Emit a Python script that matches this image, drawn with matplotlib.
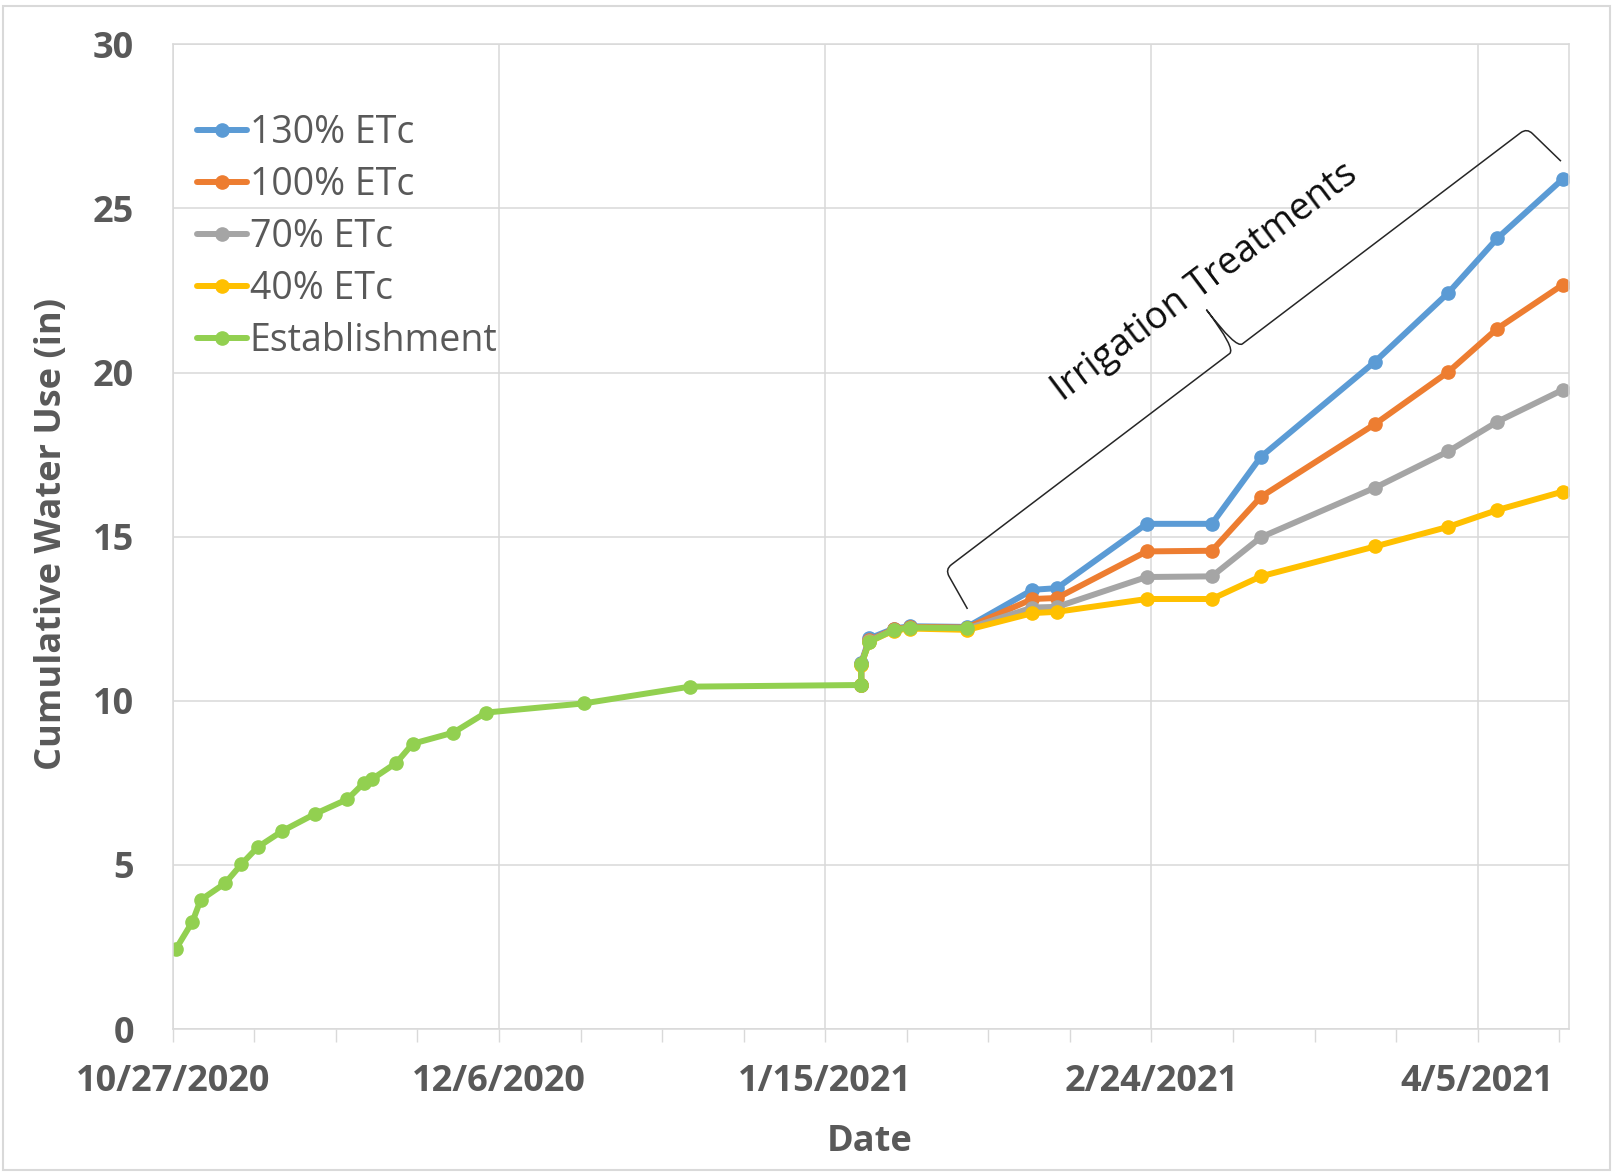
import matplotlib.pyplot as plt
import matplotlib.dates as mdates
import matplotlib.ticker as ticker
from matplotlib.path import Path
from matplotlib.patches import PathPatch, Rectangle
import numpy as np
import pandas as pd

plt.rcParams['font.family'] = ['Open Sans', 'DejaVu Sans']

# readings were taken mid-morning
READ_HOUR = 10

# establishment period (all plots irrigated the same)
est_dates = ['2020-10-27', '2020-10-29', '2020-10-30', '2020-11-02', '2020-11-04',
             '2020-11-06', '2020-11-09', '2020-11-13', '2020-11-17', '2020-11-19',
             '2020-11-20', '2020-11-23', '2020-11-25', '2020-11-30', '2020-12-04',
             '2020-12-16', '2020-12-29', '2021-01-19', '2021-01-19', '2021-01-20',
             '2021-01-23', '2021-01-25', '2021-02-01']
est_use = [2.45, 3.27, 3.93, 4.44, 5.02, 5.54, 6.03, 6.55, 7.00, 7.49,
           7.61, 8.11, 8.69, 9.03, 9.64, 9.92, 10.43, 10.48, 11.11, 11.80,
           12.16, 12.23, 12.21]

# irrigation treatments
trt_dates = ['2021-01-19', '2021-01-19', '2021-01-20', '2021-01-23', '2021-01-25',
             '2021-02-01', '2021-02-09', '2021-02-12', '2021-02-23', '2021-03-03',
             '2021-03-09', '2021-03-23', '2021-04-01', '2021-04-07', '2021-04-15']
etc130 = [10.48, 11.15, 11.90, 12.20, 12.27, 12.25, 13.38, 13.43, 15.39, 15.39,
          17.43, 20.33, 22.43, 24.09, 25.89]
etc100 = [10.48, 11.13, 11.84, 12.18, 12.25, 12.23, 13.10, 13.13, 14.55, 14.57,
          16.21, 18.43, 20.02, 21.34, 22.67]
etc70 = [10.48, 11.11, 11.82, 12.16, 12.23, 12.20, 12.84, 12.86, 13.77, 13.79,
         14.98, 16.49, 17.60, 18.50, 19.47]
etc40 = [10.48, 11.10, 11.80, 12.14, 12.20, 12.16, 12.67, 12.71, 13.10, 13.10,
         13.79, 14.70, 15.30, 15.81, 16.37]

labels = ['130% ETc', '100% ETc', '70% ETc', '40% ETc', 'Establishment']
colors = ['#5B9BD5', '#ED7D31', '#A5A5A5', '#FFC000', '#92D050']

start = pd.Timestamp('2020-10-27')
t_est = pd.to_datetime(est_dates) + pd.Timedelta(hours=READ_HOUR)
t_trt = pd.to_datetime(trt_dates) + pd.Timedelta(hours=READ_HOUR)

GRID = '#D9D9D9'
TXT = '#595959'

fig = plt.figure(figsize=(16.13, 11.74), dpi=100)
ax = fig.add_axes([0.1071, 0.1235, 0.8656, 0.8388])

for vals, lab, col in zip([etc130, etc100, etc70, etc40], labels[:4], colors[:4]):
    ax.plot(t_trt, vals, color=col, lw=4.3, marker='o', ms=9.5, label=lab,
            solid_joinstyle='round', solid_capstyle='round')
ax.plot(t_est, est_use, color=colors[4], lw=4.3, marker='o', ms=9.5, label=labels[4],
        solid_joinstyle='round', solid_capstyle='round')

ax.set_ylim(0, 30)
ax.set_xlim(start, start + pd.Timedelta(days=171.2))
ax.yaxis.set_major_locator(ticker.MultipleLocator(5))

major = pd.date_range(start, periods=5, freq='40D')
minor = pd.date_range(start, periods=18, freq='10D')
ax.xaxis.set_major_locator(ticker.FixedLocator(mdates.date2num(major)))
ax.xaxis.set_minor_locator(ticker.FixedLocator(mdates.date2num(minor)))
ax.xaxis.set_major_formatter(ticker.FuncFormatter(
    lambda v, p: (lambda d: f'{d.month}/{d.day}/{d.year}')(mdates.num2date(v))))

ax.grid(True, which='major', color=GRID, lw=1.1)
ax.set_axisbelow(True)
for s in ax.spines.values():
    s.set_color(GRID)
    s.set_linewidth(1.1)

ax.tick_params(axis='x', which='both', length=9.4, width=1.0, color=GRID,
               direction='out', pad=16)
ax.tick_params(axis='x', which='major', labelsize=26, labelcolor=TXT)
ax.tick_params(axis='y', length=0, pad=28, labelsize=26, labelcolor=TXT)
for lab in ax.get_xticklabels() + ax.get_yticklabels():
    lab.set_fontweight('bold')

fig.text(0.032, 0.545, 'Cumulative Water Use (in)', rotation=90, ha='center', va='center',
         fontsize=26, fontweight='bold', color=TXT)
fig.text(0.539, 0.0273, 'Date', ha='center', va='center',
         fontsize=26, fontweight='bold', color=TXT)

ax.legend(loc='upper left', bbox_to_anchor=(0.0173, 0.929), frameon=False,
          fontsize=27, labelcolor=TXT, borderpad=0, borderaxespad=0,
          handlelength=1.33, handletextpad=0.08, labelspacing=0.375)


def draw_brace(ax, p0, p1, hook=45, tip=49):
    # curly brace between two data points, tip pointing to the upper-left side
    fig = ax.figure
    a = ax.transData.transform((mdates.date2num(p0[0]), p0[1]))
    b = ax.transData.transform((mdates.date2num(p1[0]), p1[1]))
    d = b - a
    L = np.hypot(*d)
    u = d / L
    nv = np.array([-u[1], u[0]])
    m = L / 2
    local = [(-6, -hook), (-1, -8), (0, 0), (8, 0),
             (m - 8, 0), (m, 0), (m, tip), (m, 0), (m + 8, 0),
             (L - 8, 0), (L, 0), (L + 1, -8), (L + 7, -hook - 2)]
    codes = [Path.MOVETO, Path.LINETO, Path.CURVE3, Path.CURVE3,
             Path.LINETO, Path.CURVE3, Path.CURVE3, Path.CURVE3, Path.CURVE3,
             Path.LINETO, Path.CURVE3, Path.CURVE3, Path.LINETO]
    pts = np.array([a + s * u + n * nv for s, n in local])
    pts = fig.transFigure.inverted().transform(pts)
    fig.add_artist(PathPatch(Path(pts, codes), transform=fig.transFigure,
                             fill=False, ec='#262626', lw=1.1))


draw_brace(ax, (start + pd.Timedelta(days=94.7), 14.0),
           (start + pd.Timedelta(days=166.05), 27.45))
ax.text(start + pd.Timedelta(days=126.5), 22.75, 'Irrigation Treatments', rotation=37,
        rotation_mode='anchor', ha='center', va='center', fontsize=27, color='#0d0d0d')

fig.add_artist(Rectangle((0.002, 0.003), 0.996, 0.9915, transform=fig.transFigure,
                         fill=False, ec=GRID, lw=1.5))

fig.savefig('out.png', dpi=100)
